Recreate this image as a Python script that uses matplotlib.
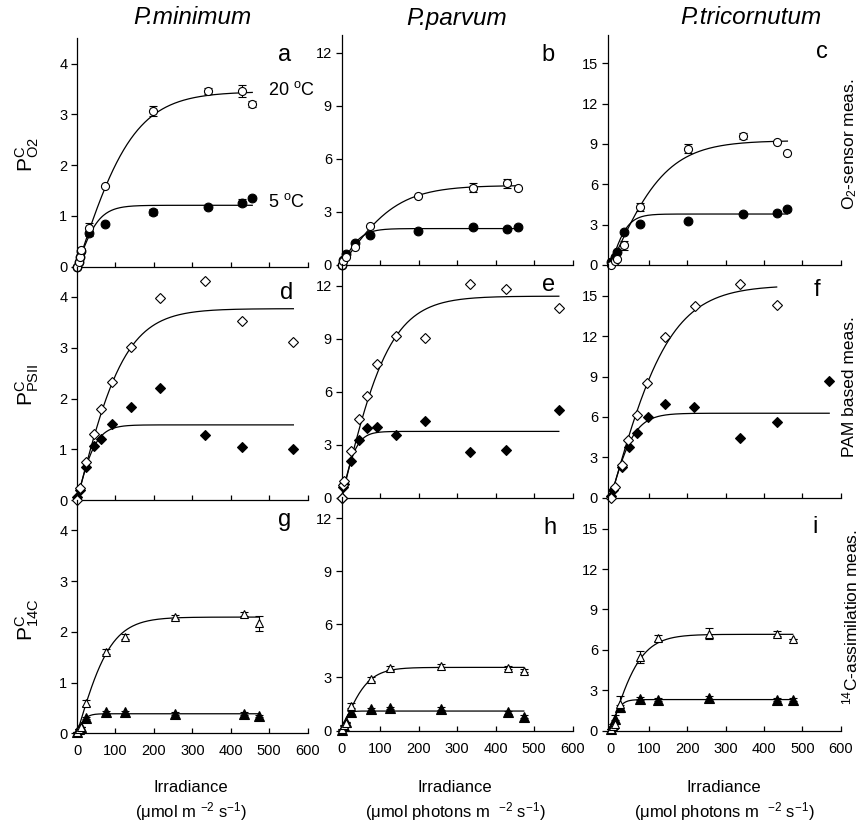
import numpy as np
import matplotlib
matplotlib.use('Agg')
import matplotlib.pyplot as plt

plt.rcParams['font.family'] = ['Liberation Sans', 'DejaVu Sans']
plt.rcParams['mathtext.fontset'] = 'custom'
plt.rcParams['mathtext.rm'] = 'Liberation Sans'
plt.rcParams['mathtext.it'] = 'Liberation Sans:italic'
plt.rcParams['mathtext.bf'] = 'Liberation Sans:bold'

species = ['P.minimum', 'P.parvum', 'P.tricornutum']
methods = [r'O$_2$-sensor meas.', 'PAM based meas.', r'$^{14}$C-assimilation meas.']
ylabels = [r'$\mathrm{P^{C}_{O2}}$', r'$\mathrm{P^{C}_{PSII}}$', r'$\mathrm{P^{C}_{14C}}$']
letters = ['a', 'b', 'c', 'd', 'e', 'f', 'g', 'h', 'i']
xticks = [0, 100, 200, 300, 400, 500, 600]
yticks_col = [[0, 1, 2, 3, 4], [0, 3, 6, 9, 12], [0, 3, 6, 9, 12, 15]]

# ---- O2 sensor (row 1), open = 20 C, filled = 5 C ----
irr_a = [0, 4, 8, 11, 31, 72, 199, 342, 430, 456]
a_warm = [0.0, 0.1, 0.2, 0.33, 0.76, 1.60, 3.07, 3.47, 3.47, 3.20]
a_warm_err = [0, 0, 0, 0, 0.1, 0, 0.1, 0.06, 0.12, 0.06]
a_cold = [0.0, 0.1, 0.2, 0.3, 0.66, 0.85, 1.07, 1.18, 1.26, 1.36]
a_cold_err = [0, 0, 0, 0, 0.05, 0, 0.06, 0, 0.07, 0]

irr_b = [0, 4, 11, 34, 73, 199, 342, 430, 457]
b_warm = [0.0, 0.2, 0.47, 1.03, 2.22, 3.90, 4.37, 4.61, 4.37]
b_warm_err = [0, 0, 0, 0, 0, 0, 0.25, 0.25, 0]
b_cold = [0.0, 0.3, 0.6, 1.23, 1.70, 1.94, 2.13, 2.05, 2.17]
b_cold_err = [0, 0, 0, 0, 0, 0, 0.1, 0, 0.1]

irr_c = [0, 10, 16, 35, 76, 202, 344, 435, 461]
c_warm = [0.0, 0.3, 0.42, 1.45, 4.28, 8.66, 9.60, 9.16, 8.29]
c_warm_err = [0, 0, 0, 0.35, 0.3, 0.35, 0.25, 0, 0]
c_cold = [0.2, 0.6, 0.99, 2.48, 3.03, 3.30, 3.79, 3.89, 4.14]
c_cold_err = [0, 0, 0, 0, 0, 0, 0, 0.1, 0.1]

# ---- PAM (row 2) ----
irr_d = [0, 7, 23, 44, 63, 91, 140, 216, 333, 429, 563]
d_warm = [0.0, 0.23, 0.74, 1.31, 1.79, 2.32, 3.02, 3.99, 4.32, 3.53, 3.12]
d_cold = [0.05, 0.2, 0.66, 1.07, 1.21, 1.50, 1.84, 2.20, 1.28, 1.05, 1.00]

irr_e = [0, 4, 7, 24, 46, 65, 92, 141, 216, 333, 428, 564]
e_warm = [0.0, 0.7, 0.95, 2.66, 4.44, 5.73, 7.58, 9.17, 9.03, 12.11, 11.81, 10.73]
e_cold = [0.0, 0.6, 0.8, 2.08, 3.27, 3.93, 3.99, 3.55, 4.31, 2.61, 2.70, 4.97]

irr_f_warm = [0, 11, 29, 46, 68, 94, 143, 220, 337, 433]
f_warm = [0.0, 0.82, 2.43, 4.29, 6.15, 8.50, 11.97, 14.28, 15.89, 14.33]
irr_f_cold = [0, 7, 29, 49, 68, 97, 143, 218, 337, 433, 570]
f_cold = [0.1, 0.57, 2.31, 3.79, 4.83, 6.02, 6.97, 6.72, 4.42, 5.61, 8.70]

# ---- 14C assimilation (row 3) ----
irr_g = [0, 5, 10, 23, 75, 124, 255, 434, 473]
g_warm = [0.03, 0.08, 0.12, 0.59, 1.61, 1.90, 2.30, 2.36, 2.17]
g_warm_err = [0, 0, 0, 0.06, 0.05, 0.05, 0.04, 0.04, 0.15]
g_cold = [0.02, 0.08, 0.12, 0.30, 0.41, 0.41, 0.39, 0.39, 0.35]
g_cold_err = [0, 0, 0, 0.02, 0.02, 0.02, 0.02, 0.03, 0.02]

irr_h = [0, 5, 10, 24, 76, 125, 257, 433, 473]
h_warm = [0.1, 0.3, 0.42, 1.40, 2.92, 3.52, 3.67, 3.56, 3.39]
h_warm_err = [0, 0, 0, 0.15, 0.1, 0.1, 0.1, 0.1, 0.1]
h_cold = [0.05, 0.25, 0.5, 1.04, 1.21, 1.27, 1.23, 1.02, 0.79]
h_cold_err = [0, 0, 0, 0.08, 0.08, 0.08, 0.08, 0.08, 0.08]

irr_i = [0, 5, 10, 24, 76, 124, 257, 435, 475]
i_warm = [0.1, 0.3, 0.5, 1.98, 5.45, 6.87, 7.19, 7.19, 6.82]
i_warm_err = [0, 0, 0.3, 0.6, 0.45, 0.2, 0.4, 0.2, 0]
i_cold = [0.1, 0.5, 0.87, 1.73, 2.36, 2.28, 2.43, 2.28, 2.28]
i_cold_err = [0, 0, 0.3, 0.2, 0.1, 0.1, 0.1, 0.1, 0.1]

# fitted P-I parameters (Pmax, alpha), tanh model
fit_warm = [(3.45, 0.0229), (4.5, 0.0306), (9.25, 0.062),
            (3.77, 0.0293), (11.4, 0.089), (15.8, 0.0995),
            (2.29, 0.0254), (3.57, 0.053), (7.15, 0.089)]
fit_cold = [(1.21, 0.0212), (2.06, 0.041), (3.79, 0.085),
            (1.48, 0.0296), (3.75, 0.0975), (6.28, 0.1),
            (0.385, 0.0173), (1.1, 0.073), (2.3, 0.095)]

panels = [
    (irr_a, a_warm, a_warm_err, irr_a, a_cold, a_cold_err),
    (irr_b, b_warm, b_warm_err, irr_b, b_cold, b_cold_err),
    (irr_c, c_warm, c_warm_err, irr_c, c_cold, c_cold_err),
    (irr_d, d_warm, None, irr_d, d_cold, None),
    (irr_e, e_warm, None, irr_e, e_cold, None),
    (irr_f_warm, f_warm, None, irr_f_cold, f_cold, None),
    (irr_g, g_warm, g_warm_err, irr_g, g_cold, g_cold_err),
    (irr_h, h_warm, h_warm_err, irr_h, h_cold, h_cold_err),
    (irr_i, i_warm, i_warm_err, irr_i, i_cold, i_cold_err),
]
row_markers = ['o', 'D', '^']
row_msize = [5.8, 5.0, 6.0]


def pi_tanh(irr, pmax, alpha):
    return pmax * np.tanh(alpha * irr / pmax)


W, H = 861, 827
fig = plt.figure(figsize=(W / 100, H / 100), dpi=100)

# pixel layout of the 3x3 grid
col_left = [77, 341.7, 607.6]
col_width = [230.6, 231.0, 233.1]
col_xlim = [(0, 600), (0, 600), (-8, 600)]
col_bottom = [[266.7, 500.0, 733.3], [265.0, 497.7, 730.5], [265.0, 497.7, 730.5]]
px_unit = [50.75, 17.68, 13.45]
col_ytop = [[4.5, 4.6, 4.6], [13.0, 13.2, 13.2], [17.1, 17.35, 17.35]]

for row in range(3):
    for col in range(3):
        k = row * 3 + col
        top = col_ytop[col][row]
        h = top * px_unit[col]
        bottom = col_bottom[col][row]
        ax = fig.add_axes([col_left[col] / W, 1 - bottom / H, col_width[col] / W, h / H])
        ax.set_xlim(*col_xlim[col])
        ax.set_ylim(0, top)
        ax.patch.set_alpha(0)
        for s in ['top', 'right']:
            ax.spines[s].set_visible(False)
        for s in ['left', 'bottom']:
            ax.spines[s].set_linewidth(0.9)
        ax.set_xticks(xticks)
        ax.set_yticks(yticks_col[col])
        ax.tick_params(axis='y', direction='out', length=4, width=0.9, labelsize=10.5, pad=3)
        ax.tick_params(axis='x', direction='in', length=3.5, width=0.9, labelsize=10.5, pad=8)
        if row < 2:
            ax.set_xticklabels([])

        xw, yw, ew, xc, yc, ec = panels[k]
        mk = row_markers[row]
        ms = row_msize[row]

        for xs, (pm, al) in [(xw, fit_warm[k]), (xc, fit_cold[k])]:
            xx = np.linspace(0, max(xs), 200)
            ax.plot(xx, pi_tanh(xx, pm, al), color='black', lw=0.9, zorder=1)

        if ew is not None:
            ax.errorbar(xw, yw, yerr=ew, fmt='none', ecolor='black', elinewidth=0.8,
                        capsize=3, capthick=0.8, zorder=2, clip_on=False)
            ax.errorbar(xc, yc, yerr=ec, fmt='none', ecolor='black', elinewidth=0.8,
                        capsize=3, capthick=0.8, zorder=2, clip_on=False)
        ax.plot(xc, yc, linestyle='none', marker=mk, ms=ms + 0.5, mfc='black', mec='black',
                mew=0.8, zorder=3, clip_on=False)
        ax.plot(xw, yw, linestyle='none', marker=mk, ms=ms, mfc='white', mec='black',
                mew=0.8, zorder=4, clip_on=False)

# species titles
for x, name in zip([192, 457, 751], species):
    fig.text(x / W, 1 - 18 / H, name, style='italic', fontsize=17.5, ha='center', va='center')

# panel letters
letter_pos = [(285, 55), (548, 55), (822, 52), (287, 293), (549, 285), (817, 290),
              (285, 520), (550, 528), (815, 527)]
for (x, y), lt in zip(letter_pos, letters):
    fig.text(x / W, 1 - y / H, lt, fontsize=17, ha='center', va='center')

# method labels on the right
for y, m in zip([144, 387, 617], methods):
    fig.text(850 / W, 1 - y / H, m, rotation=90, fontsize=12.5, ha='center', va='center')

# y labels
for y, lab in zip([155, 385, 620], ylabels):
    fig.text(27 / W, 1 - y / H, lab, rotation=90, fontsize=15, ha='center', va='center')

# temperature labels
fig.text(268 / W, 1 - 90 / H, r'20 $^{\mathrm{o}}$C', fontsize=13, ha='left', va='center')
fig.text(268 / W, 1 - 202 / H, r'5 $^{\mathrm{o}}$C', fontsize=13, ha='left', va='center')

# x labels
units = [r'($\mathrm{\mu}$mol m $^{-2}$ s$^{-1}$)',
         r'($\mathrm{\mu}$mol photons m  $^{-2}$ s$^{-1}$)',
         r'($\mathrm{\mu}$mol photons m  $^{-2}$ s$^{-1}$)']
for x, u in zip([191, 455, 724], units):
    fig.text(x / W, 1 - 788 / H, 'Irradiance', fontsize=12, ha='center', va='center')
    fig.text(x / W, 1 - 812 / H, u, fontsize=12, ha='center', va='center')

fig.savefig('out.png', dpi=100)
